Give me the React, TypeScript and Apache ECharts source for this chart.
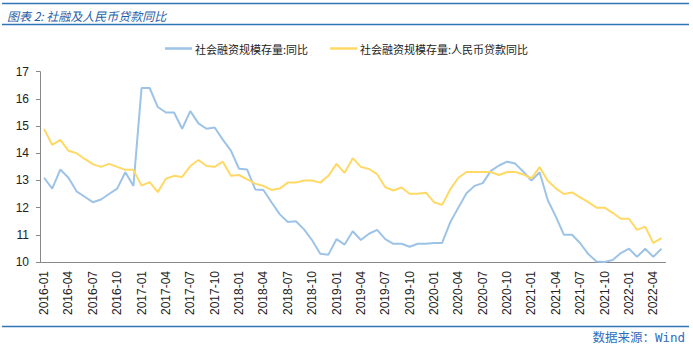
import React, { useEffect, useRef } from "react";
import * as echarts from "echarts";

const categories = [
  "2016-01","2016-02","2016-03","2016-04","2016-05","2016-06","2016-07","2016-08","2016-09","2016-10","2016-11","2016-12",
  "2017-01","2017-02","2017-03","2017-04","2017-05","2017-06","2017-07","2017-08","2017-09","2017-10","2017-11","2017-12",
  "2018-01","2018-02","2018-03","2018-04","2018-05","2018-06","2018-07","2018-08","2018-09","2018-10","2018-11","2018-12",
  "2019-01","2019-02","2019-03","2019-04","2019-05","2019-06","2019-07","2019-08","2019-09","2019-10","2019-11","2019-12",
  "2020-01","2020-02","2020-03","2020-04","2020-05","2020-06","2020-07","2020-08","2020-09","2020-10","2020-11","2020-12",
  "2021-01","2021-02","2021-03","2021-04","2021-05","2021-06","2021-07","2021-08","2021-09","2021-10","2021-11","2021-12",
  "2022-01","2022-02","2022-03","2022-04","2022-05",
];

const tsfYoY = [
  13.1, 12.7, 13.4, 13.1, 12.6, 12.4, 12.2, 12.3, 12.5, 12.7, 13.3, 12.8,
  16.4, 16.4, 15.7, 15.5, 15.5, 14.9, 15.55, 15.1, 14.9, 14.95, 14.5, 14.1,
  13.43, 13.4, 12.67, 12.65, 12.2, 11.76, 11.47, 11.5, 11.2, 10.8, 10.3, 10.27,
  10.84, 10.64, 11.13, 10.81, 11.04, 11.18, 10.84, 10.67, 10.67, 10.56, 10.67, 10.67,
  10.7, 10.7, 11.46, 12.0, 12.53, 12.8, 12.9, 13.35, 13.55, 13.69, 13.62, 13.32,
  13.0, 13.3, 12.28, 11.67, 11.0, 11.0, 10.69, 10.29, 10.02, 10.0, 10.07, 10.33,
  10.49, 10.19, 10.49, 10.19, 10.49,
];

const rmbLoanYoY = [
  14.89, 14.31, 14.49, 14.09, 14.0, 13.79, 13.6, 13.5, 13.61, 13.5, 13.39, 13.39,
  12.81, 12.94, 12.57, 13.06, 13.17, 13.13, 13.53, 13.75, 13.53, 13.5, 13.69, 13.17,
  13.2, 13.04, 12.88, 12.8, 12.65, 12.7, 12.92, 12.92, 13.0, 13.0, 12.92, 13.17,
  13.61, 13.28, 13.82, 13.5, 13.42, 13.23, 12.75, 12.63, 12.74, 12.51, 12.51, 12.55,
  12.2, 12.1, 12.67, 13.1, 13.31, 13.31, 13.31, 13.31, 13.2, 13.31, 13.31, 13.22,
  13.08, 13.49, 12.99, 12.71, 12.5, 12.56, 12.38, 12.2, 12.0, 12.0, 11.81, 11.59,
  11.59, 11.18, 11.3, 10.7, 10.88,
];

const seriesNames = ["社会融资规模存量:同比", "社会融资规模存量:人民币贷款同比"];
const titleText = "图表 2: 社融及人民币贷款同比";
const sourceText = "数据来源：Wind";

export default function App() {
  const ref = useRef<HTMLDivElement>(null);

  useEffect(() => {
    if (!ref.current) return;
    const chart = echarts.init(ref.current, null, { renderer: "svg" });
    const lineBlue = "#2E75B6";
    chart.setOption({
      animation: false,
      backgroundColor: "#ffffff",
      textStyle: { fontFamily: "Liberation Sans, Arial, Noto Sans CJK SC, sans-serif" },
      graphic: [
        { type: "line", shape: { x1: 2, y1: 3.5, x2: 689, y2: 3.5 }, style: { stroke: lineBlue, lineWidth: 1.5 } },
        { type: "line", shape: { x1: 2, y1: 24.5, x2: 689, y2: 24.5 }, style: { stroke: lineBlue, lineWidth: 1.5 } },
        {
          type: "text", x: 7, y: 15,
          style: {
            text: titleText, fill: "#1F5FA8", fontSize: 12, fontStyle: "italic",
            fontFamily: "Noto Sans CJK SC, sans-serif", verticalAlign: "middle", align: "left",
          },
        },
        { type: "line", shape: { x1: 2, y1: 326.5, x2: 689, y2: 326.5 }, style: { stroke: lineBlue, lineWidth: 1.5 } },
        {
          type: "text", x: 685, y: 337,
          style: {
            text: sourceText, fill: "#2E6EBD", fontSize: 12.5,
            fontFamily: "DejaVu Sans Mono, Noto Sans CJK SC, monospace", verticalAlign: "middle", align: "right",
          },
        },
      ],
      legend: {
        top: 38,
        left: "center",
        itemWidth: 27,
        itemHeight: 2.5,
        itemGap: 22,
        icon: "rect",
        textStyle: { fontSize: 11, color: "#222", fontFamily: "Noto Sans CJK SC, sans-serif", padding: [0, 0, 0, -2] },
        data: seriesNames,
      },
      grid: { left: 40, right: 27.5, top: 71.7, bottom: 90, containLabel: false },
      xAxis: {
        type: "category",
        data: categories,
        boundaryGap: true,
        axisLine: { lineStyle: { color: "#888", width: 1 } },
        axisTick: { interval: 2, length: 4, lineStyle: { color: "#888" } },
        axisLabel: { interval: 2, rotate: 90, fontSize: 12, color: "#222", margin: 9 },
        splitLine: { show: false },
      },
      yAxis: {
        type: "value",
        min: 10,
        max: 17,
        interval: 1,
        axisLine: { show: true, lineStyle: { color: "#888", width: 1 } },
        axisTick: { show: true, length: 4, lineStyle: { color: "#888" } },
        axisLabel: { fontSize: 12, color: "#222", margin: 11 },
        splitLine: { show: false },
      },
      series: [
        {
          name: seriesNames[0], type: "line", data: tsfYoY, showSymbol: false, symbol: "none",
          lineStyle: { color: "#9DC3E6", width: 2 }, itemStyle: { color: "#9DC3E6" },
        },
        {
          name: seriesNames[1], type: "line", data: rmbLoanYoY, showSymbol: false, symbol: "none",
          lineStyle: { color: "#FFD966", width: 2 }, itemStyle: { color: "#FFD966" },
        },
      ],
    });
    return () => chart.dispose();
  }, []);

  return (
    <div
      ref={ref}
      style={{ position: "fixed", left: 0, top: 0, width: 693, height: 352, background: "#fff" }}
    />
  );
}
